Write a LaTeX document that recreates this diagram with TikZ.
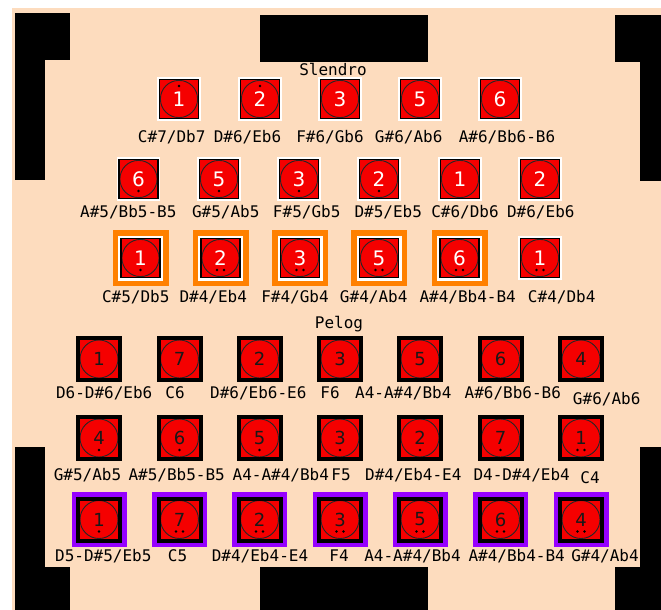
\documentclass[tikz,border=0pt]{standalone}
\usepackage{fontspec}
\setmonofont{DejaVu Sans Mono}
\newfontfamily\keyfont{DejaVu Sans}
\usepackage{xcolor}
\usepackage{tikz}
\usetikzlibrary{positioning}

\definecolor{peach}{RGB}{253,220,190}
\definecolor{keyred}{RGB}{245,0,0}
\definecolor{ringorange}{RGB}{255,128,0}
\definecolor{ringpurple}{RGB}{150,0,255}

\begin{document}
\begin{tikzpicture}[
 x=1pt, y=-1pt,
 frame/.style={fill=black, draw=none},
 slkey/.style={rectangle, draw=black, line width=1.2pt, fill=keyred, minimum size=39pt, inner sep=0pt,
   preaction={draw=white, line width=4.5pt},
   path picture={\draw[black!85, line width=0.9pt] (path picture bounding box.center) circle (18.6pt);},
   font=\keyfont\fontsize{20}{20}\selectfont, text=white},
 hilite/.style={preaction={draw=ringorange, line width=17pt}, preaction={draw=white, line width=6pt}},
 pgkey/.style={rectangle, draw=black, line width=4pt, fill=keyred, minimum size=42pt, inner sep=0pt,
   path picture={\draw[black!85, line width=0.9pt] (path picture bounding box.center) circle (19pt);},
   font=\keyfont\fontsize{18}{18}\selectfont, text=black!90},
 pgring/.style={preaction={draw=ringpurple, line width=13pt}},
 octdot/.style={circle, fill=black, inner sep=0pt, minimum size=2.6pt},
 dotup/.style={label={[octdot, yshift=13pt]center:{}}},
 dotdown/.style={label={[octdot, yshift=-12pt]center:{}}},
 dotdowntwo/.style={label={[octdot, xshift=-3.5pt, yshift=-12pt]center:{}},
   label={[octdot, xshift=3.5pt, yshift=-12pt]center:{}}},
 note/.style={font=\ttfamily\fontsize{16}{16}\selectfont, anchor=base, inner sep=0pt, text=black},
 tuning/.style={font=\ttfamily\fontsize{16}{16}\selectfont, anchor=base, inner sep=0pt, text=black}
 ]
 \useasboundingbox (0,0) rectangle (661,610);
 \fill[white] (0,0) rectangle (661,610);
 \fill[peach] (12,8) rectangle (661,610);

 % Frame corners
 \fill[frame] (15,13) rectangle (70,60);
 \fill[frame] (15,13) rectangle (45,180);
 \fill[frame] (260,15) rectangle (428,62);
 \fill[frame] (615,15) rectangle (661,62);
 \fill[frame] (640,15) rectangle (661,181);
 \fill[frame] (15,447) rectangle (45,610);
 \fill[frame] (15,567) rectangle (70,610);
 \fill[frame] (260,567) rectangle (428,610);
 \fill[frame] (640,447) rectangle (661,610);
 \fill[frame] (615,567) rectangle (661,610);

 % Slendro
 \node[tuning] (slendro) at (333,75.5) {Slendro};

 % Slendro row 1
 \node[slkey, dotup] (s1k1) at (179,99) {1};
 \node[slkey, dotup] (s1k2) at (260,99) {2};
 \node[slkey] (s1k3) at (340,99) {3};
 \node[slkey] (s1k4) at (420,99) {5};
 \node[slkey] (s1k5) at (500,99) {6};
 \node[note] (s1n1) at (171.7,142.5) {C\#7/Db7};
 \node[note] (s1n2) at (247.5,142.5) {D\#6/Eb6};
 \node[note] (s1n3) at (330,142.5) {F\#6/Gb6};
 \node[note] (s1n4) at (408.7,142.5) {G\#6/Ab6};
 \node[note] (s1n5) at (507,142.5) {A\#6/Bb6-B6};

 % Slendro row 2
 \node[slkey, dotdown] (s2k1) at (138.5,179) {6};
 \node[slkey, dotdown] (s2k2) at (219,179) {5};
 \node[slkey, dotdown] (s2k3) at (299,179) {3};
 \node[slkey, dotdown] (s2k4) at (379,179) {2};
 \node[slkey] (s2k5) at (460,179) {1};
 \node[slkey] (s2k6) at (540,179) {2};
 \node[note] (s2n1) at (128.3,217.5) {A\#5/Bb5-B5};
 \node[note] (s2n2) at (225.8,217.5) {G\#5/Ab5};
 \node[note] (s2n3) at (306.7,217.5) {F\#5/Gb5};
 \node[note] (s2n4) at (388.3,217.5) {D\#5/Eb5};
 \node[note] (s2n5) at (465,217.5) {C\#6/Db6};
 \node[note] (s2n6) at (540.8,217.5) {D\#6/Eb6};

 % Slendro row 3
 \node[slkey, hilite, dotdown] (s3k1) at (140.5,258) {1};
 \node[slkey, hilite, dotdowntwo] (s3k2) at (220.5,258) {2};
 \node[slkey, hilite, dotdowntwo] (s3k3) at (300,258) {3};
 \node[slkey, hilite, dotdowntwo] (s3k4) at (379,258) {5};
 \node[slkey, hilite, dotdowntwo] (s3k5) at (459.5,258) {6};
 \node[slkey, dotdowntwo] (s3k6) at (540,258) {1};
 \node[note] (s3n1) at (135.8,302.5) {C\#5/Db5};
 \node[note] (s3n2) at (213.3,302.5) {D\#4/Eb4};
 \node[note] (s3n3) at (295,302.5) {F\#4/Gb4};
 \node[note] (s3n4) at (373.7,302.5) {G\#4/Ab4};
 \node[note] (s3n5) at (467.7,302.5) {A\#4/Bb4-B4};
 \node[note] (s3n6) at (561.7,302.5) {C\#4/Db4};

 % Pelog
 \node[tuning] (pelog) at (339,328.5) {Pelog};

 % Pelog row 1
 \node[pgkey] (p1k1) at (99,359) {1};
 \node[pgkey] (p1k2) at (179.5,359) {7};
 \node[pgkey] (p1k3) at (259.5,359) {2};
 \node[pgkey] (p1k4) at (340,359) {3};
 \node[pgkey] (p1k5) at (420,359) {5};
 \node[pgkey] (p1k6) at (500.5,359) {6};
 \node[pgkey] (p1k7) at (581,359) {4};
 \node[note] (p1n1) at (104.2,398.5) {D6-D\#6/Eb6};
 \node[note] (p1n2) at (175,398.5) {C6};
 \node[note] (p1n3) at (258.3,398.5) {D\#6/Eb6-E6};
 \node[note] (p1n4) at (330,398.5) {F6};
 \node[note] (p1n5) at (403.3,398.5) {A4-A\#4/Bb4};
 \node[note] (p1n6) at (512.8,398.5) {A\#6/Bb6-B6};
 \node[note] (p1n7) at (606.7,404.5) {G\#6/Ab6};

 % Pelog row 2
 \node[pgkey, dotdown] (p2k1) at (99,438) {4};
 \node[pgkey, dotdown] (p2k2) at (179.5,438) {6};
 \node[pgkey, dotdown] (p2k3) at (259.5,438) {5};
 \node[pgkey, dotdown] (p2k4) at (340,438) {3};
 \node[pgkey, dotdown] (p2k5) at (420,438) {2};
 \node[pgkey, dotdown] (p2k6) at (500.5,438) {7};
 \node[pgkey, dotdowntwo] (p2k7) at (581,438) {1};
 \node[note] (p2n1) at (87.5,480) {G\#5/Ab5};
 \node[note] (p2n2) at (176.7,480) {A\#5/Bb5-B5};
 \node[note] (p2n3) at (280.8,480) {A4-A\#4/Bb4};
 \node[note] (p2n4) at (341,480) {F5};
 \node[note] (p2n5) at (413.3,480) {D\#4/Eb4-E4};
 \node[note] (p2n6) at (521.7,480) {D4-D\#4/Eb4};
 \node[note] (p2n7) at (590,483.5) {C4};

 % Pelog row 3
 \node[pgkey, pgring, dotdown] (p3k1) at (99,519.5) {1};
 \node[pgkey, pgring, dotdowntwo] (p3k2) at (179.5,519.5) {7};
 \node[pgkey, pgring, dotdowntwo] (p3k3) at (259.5,519.5) {2};
 \node[pgkey, pgring, dotdowntwo] (p3k4) at (340,519.5) {3};
 \node[pgkey, pgring, dotdowntwo] (p3k5) at (420,519.5) {5};
 \node[pgkey, pgring, dotdowntwo] (p3k6) at (500.5,519.5) {6};
 \node[pgkey, pgring, dotdowntwo] (p3k7) at (581,519.5) {4};
 \node[note] (p3n1) at (103.3,561.5) {D5-D\#5/Eb5};
 \node[note] (p3n2) at (177.5,561.5) {C5};
 \node[note] (p3n3) at (260,561.5) {D\#4/Eb4-E4};
 \node[note] (p3n4) at (339,561.5) {F4};
 \node[note] (p3n5) at (412.5,561.5) {A4-A\#4/Bb4};
 \node[note] (p3n6) at (516.7,561.5) {A\#4/Bb4-B4};
 \node[note] (p3n7) at (605,561.5) {G\#4/Ab4};
\end{tikzpicture}
\end{document}
